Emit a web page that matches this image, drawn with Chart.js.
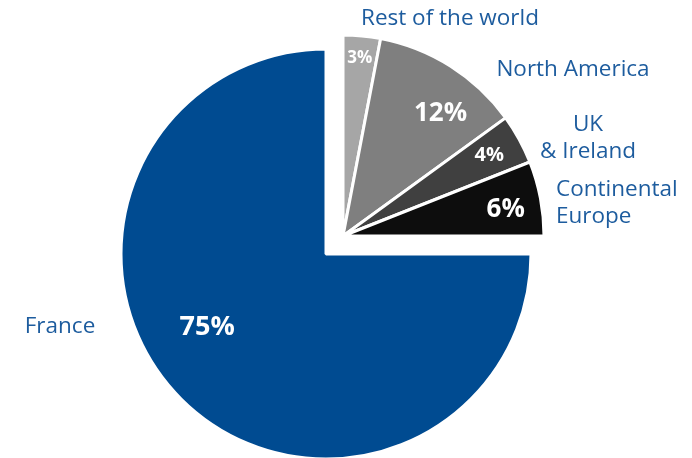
<!DOCTYPE html>
<html>
<head>
<meta charset="utf-8">
<script src="https://cdn.jsdelivr.net/npm/chart.js@4"></script>
<style>
  html, body { margin: 0; padding: 0; background: #fff; overflow: hidden; }
  #wrap { width: 692px; height: 470px; }
</style>
</head>
<body>
<div id="wrap"><canvas id="pie" width="692" height="470"></canvas></div>
<script>
// regions, clockwise from 12 o'clock
const regions = ['Rest of the world', 'North America', 'UK & Ireland', 'Continental Europe', 'France'];
const shares = [3, 12, 4, 6, 75];
const sliceColors = ['#a6a6a6', '#7f7f7f', '#404040', '#0d0d0d', '#004b91'];

// name text beside each slice (lines, x, y, align)
const nameLabels = [
    { lines: ['Rest of the world'], x: 450, y: 19, align: 'center' },
    { lines: ['North America'], x: 573, y: 70, align: 'center' },
    { lines: ['UK', '& Ireland'], x: 588, y: 125, align: 'center' },
    { lines: ['Continental', 'Europe'], x: 556, y: 190, align: 'left' },
    { lines: ['France'], x: 60, y: 327, align: 'center' }
];
// percent text inside slices: [fraction along the arc, fraction of radius, font px]
const pctSpots = [[0.5, 0.89, 17], [0.64, 0.78, 26], [0.5, 0.83, 20], [0.58, 0.82, 26], [0.55, 0.68, 27]];

const explodedCount = 4;   // the non-France slices are pulled out together
const pullX = 17, pullY = 18;
const explodedTrim = 4;    // pulled-out group is drawn a little smaller

const textBlue = '#1d5c9e';
const fontFam = '"Open Sans", "Noto Sans", sans-serif';

const slicePlugin = {
    id: 'slicePlugin',
    afterDatasetUpdate(chart, args) {
        args.meta.data.forEach((arc, i) => {
            if (i < explodedCount) {
                arc.x += pullX;
                arc.y -= pullY;
                arc.outerRadius -= explodedTrim;
            }
        });
    },
    afterDraw(chart) {
        const ctx = chart.ctx;
        const arcs = chart.getDatasetMeta(0).data;
        ctx.save();
        ctx.textBaseline = 'middle';

        // percentages
        ctx.fillStyle = '#ffffff';
        ctx.textAlign = 'center';
        arcs.forEach((arc, i) => {
            const [af, rf, size] = pctSpots[i];
            const ang = arc.startAngle + (arc.endAngle - arc.startAngle) * af;
            const r = arc.outerRadius * rf;
            ctx.font = 'bold ' + size + 'px ' + fontFam;
            ctx.fillText(shares[i] + '%', arc.x + Math.cos(ang) * r, arc.y + Math.sin(ang) * r);
        });

        // region names
        ctx.fillStyle = textBlue;
        ctx.font = '22.5px ' + fontFam;
        nameLabels.forEach(l => {
            ctx.textAlign = l.align;
            l.lines.forEach((t, k) => ctx.fillText(t, l.x, l.y + k * 27));
        });
        ctx.restore();
    }
};

new Chart(document.getElementById('pie'), {
    type: 'pie',
    data: {
        labels: regions,
        datasets: [{
            data: shares,
            backgroundColor: sliceColors,
            borderColor: '#ffffff',
            borderWidth: 3,
            radius: 205
        }]
    },
    options: {
        responsive: false,
        animation: false,
        events: [],
        layout: { padding: { left: 120, right: 160, top: 49, bottom: 11 } },
        plugins: { legend: { display: false }, tooltip: { enabled: false } }
    },
    plugins: [slicePlugin]
});
</script>
</body>
</html>
